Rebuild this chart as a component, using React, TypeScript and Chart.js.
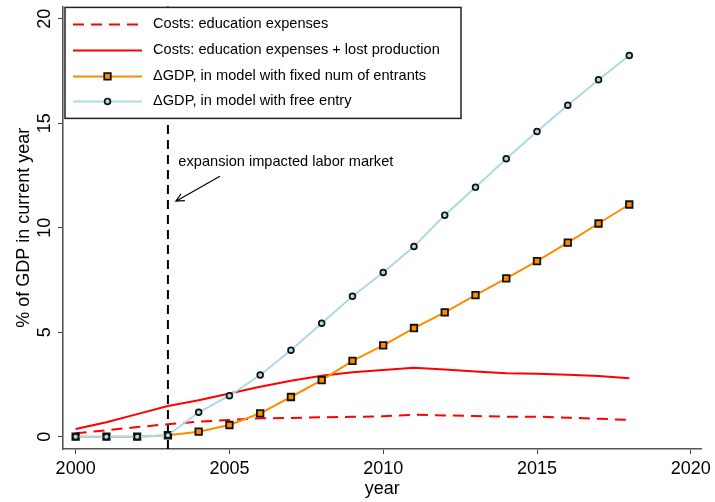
import React, { useEffect, useRef } from 'react';
import { Chart, registerables } from 'chart.js';

Chart.register(...registerables);

const FONT = '"Liberation Sans", Arial, Helvetica, sans-serif';

// ---- data ----
const years = [2000, 2001, 2002, 2003, 2004, 2005, 2006, 2007, 2008, 2009, 2010, 2011, 2012, 2013, 2014, 2015, 2016, 2017, 2018];
const costsEducation = [0.16, 0.31, 0.46, 0.6, 0.72, 0.8, 0.88, 0.9, 0.93, 0.95, 0.98, 1.05, 1.02, 0.99, 0.96, 0.96, 0.91, 0.86, 0.8];
const costsEducationLost = [0.37, 0.69, 1.08, 1.47, 1.74, 2.07, 2.39, 2.68, 2.92, 3.08, 3.19, 3.3, 3.22, 3.12, 3.04, 3.01, 2.96, 2.9, 2.8];
const gdpFixedEntrants = [0, 0, 0, 0.07, 0.24, 0.56, 1.12, 1.9, 2.71, 3.63, 4.37, 5.2, 5.95, 6.77, 7.58, 8.4, 9.29, 10.2, 11.11];
const gdpFreeEntry = [0, 0, 0, 0.07, 1.17, 1.96, 2.95, 4.14, 5.43, 6.72, 7.86, 9.1, 10.6, 11.93, 13.3, 14.6, 15.86, 17.08, 18.24];

const seriesLabels = [
  'Costs: education expenses',
  'Costs: education expenses + lost production',
  '\u0394GDP, in model with fixed num of entrants',
  '\u0394GDP, in model with free entry',
];

const xTickValues = [2000, 2005, 2010, 2015, 2020];
const yTickValues = [0, 5, 10, 15, 20];
const xTitle = 'year';
const yTitle = '% of GDP in current year';

const expansionYear = 2003;
const annotationText = 'expansion impacted labor market';
const annotationPos = { x: 2003.34, y: 13.15 };
const arrowFrom = { x: 2004.69, y: 12.46 };
const arrowTo = { x: 2003.26, y: 11.27 };

const toPoints = (vals: number[]) => years.map((yr, i) => ({ x: yr, y: vals[i] }));

const overlayPlugin = {
  id: 'overlay',
  beforeDatasetsDraw(chart: any) {
    const { ctx, chartArea, scales } = chart;
    const x = scales.x.getPixelForValue(expansionYear);
    ctx.save();
    ctx.strokeStyle = '#000';
    ctx.lineWidth = 2;
    ctx.setLineDash([9, 6]);
    ctx.beginPath();
    ctx.moveTo(x, chartArea.bottom);
    ctx.lineTo(x, chartArea.top);
    ctx.stroke();
    ctx.restore();
  },
  afterDatasetsDraw(chart: any) {
    const { ctx, scales } = chart;
    const sx = scales.x, sy = scales.y;
    ctx.save();
    ctx.fillStyle = '#000';
    ctx.font = `14.6px ${FONT}`;
    ctx.textAlign = 'left';
    ctx.textBaseline = 'middle';
    ctx.fillText(annotationText, sx.getPixelForValue(annotationPos.x), sy.getPixelForValue(annotationPos.y));
    const x1 = sx.getPixelForValue(arrowFrom.x), y1 = sy.getPixelForValue(arrowFrom.y);
    const x2 = sx.getPixelForValue(arrowTo.x), y2 = sy.getPixelForValue(arrowTo.y);
    ctx.strokeStyle = '#000';
    ctx.lineWidth = 1.2;
    ctx.beginPath();
    ctx.moveTo(x1, y1);
    ctx.lineTo(x2, y2);
    const ang = Math.atan2(y2 - y1, x2 - x1);
    const L = 9, a = Math.PI / 7;
    ctx.moveTo(x2 - L * Math.cos(ang - a), y2 - L * Math.sin(ang - a));
    ctx.lineTo(x2, y2);
    ctx.lineTo(x2 - L * Math.cos(ang + a), y2 - L * Math.sin(ang + a));
    ctx.stroke();
    ctx.restore();
  },
  afterDraw(chart: any) {
    const { ctx, chartArea, scales } = chart;
    ctx.save();
    ctx.fillStyle = '#000';
    ctx.font = `18px ${FONT}`;
    ctx.textAlign = 'center';
    ctx.textBaseline = 'alphabetic';
    scales.y.ticks.forEach((t: any) => {
      const py = scales.y.getPixelForValue(t.value);
      ctx.save();
      ctx.translate(50, py);
      ctx.rotate(-Math.PI / 2);
      ctx.fillText(String(t.value), 0, 0);
      ctx.restore();
    });
    ctx.restore();

    const bx = chartArea.left + 2, by = chartArea.top + 1, bw = 396, bh = 111;
    ctx.save();
    ctx.fillStyle = '#fff';
    ctx.fillRect(bx, by, bw, bh);
    ctx.strokeStyle = '#222';
    ctx.lineWidth = 1.5;
    ctx.strokeRect(bx, by, bw, bh);
    const rowY = [17, 43, 69, 94];
    ctx.font = `14.6px ${FONT}`;
    ctx.textBaseline = 'middle';
    ctx.textAlign = 'left';
    chart.data.datasets.forEach((ds: any, i: number) => {
      const y = by + rowY[i];
      const sx0 = bx + 8, sx1 = bx + 77;
      ctx.save();
      ctx.strokeStyle = ds.borderColor;
      ctx.lineWidth = ds.borderWidth;
      ctx.setLineDash(ds.borderDash || []);
      ctx.beginPath();
      ctx.moveTo(sx0, y);
      ctx.lineTo(sx1, y);
      ctx.stroke();
      ctx.restore();
      if (ds.pointRadius > 0) {
        const mx = (sx0 + sx1) / 2;
        ctx.save();
        ctx.fillStyle = ds.pointBackgroundColor;
        ctx.strokeStyle = ds.pointBorderColor;
        ctx.lineWidth = ds.pointBorderWidth;
        ctx.beginPath();
        if (ds.pointStyle === 'rect') {
          const h = ds.pointRadius * Math.SQRT1_2;
          ctx.rect(mx - h, y - h, 2 * h, 2 * h);
        } else {
          ctx.arc(mx, y, ds.pointRadius, 0, Math.PI * 2);
        }
        ctx.fill();
        ctx.stroke();
        ctx.restore();
      }
      ctx.fillStyle = '#000';
      ctx.fillText(ds.label, bx + 88, y);
    });
    ctx.restore();
  },
};

export default function App() {
  const canvasRef = useRef<HTMLCanvasElement | null>(null);

  useEffect(() => {
    if (!canvasRef.current) return;
    Chart.defaults.font.family = FONT;
    const chart = new Chart(canvasRef.current, {
      type: 'line',
      data: {
        datasets: [
          {
            label: seriesLabels[0],
            data: toPoints(costsEducation),
            borderColor: '#ff0000',
            borderWidth: 2,
            borderDash: [11, 7],
            pointRadius: 0,
            tension: 0,
            order: 4,
          },
          {
            label: seriesLabels[1],
            data: toPoints(costsEducationLost),
            borderColor: '#ff0000',
            borderWidth: 2,
            pointRadius: 0,
            tension: 0,
            order: 3,
          },
          {
            label: seriesLabels[2],
            data: toPoints(gdpFixedEntrants),
            borderColor: '#ff8c00',
            borderWidth: 2,
            pointStyle: 'rect',
            pointRadius: 4.6,
            pointBackgroundColor: '#ff8c00',
            pointBorderColor: '#111',
            pointBorderWidth: 1.8,
            tension: 0,
            order: 2,
          },
          {
            label: seriesLabels[3],
            data: toPoints(gdpFreeEntry),
            borderColor: '#add8e6',
            borderWidth: 2,
            pointStyle: 'circle',
            pointRadius: 2.9,
            pointBackgroundColor: '#add8e6',
            pointBorderColor: '#111',
            pointBorderWidth: 1.7,
            tension: 0,
            order: 1,
          },
        ] as any,
      },
      options: {
        animation: false,
        responsive: false,
        events: [],
        layout: { padding: { top: 6, right: 11, left: 0, bottom: 0 } },
        plugins: { legend: { display: false }, tooltip: { enabled: false } },
        scales: {
          x: {
            type: 'linear',
            min: 1999.589,
            max: 2020.35,
            afterBuildTicks: (s: any) => { s.ticks = xTickValues.map((v) => ({ value: v })); },
            afterFit: (s: any) => { s.height = 53; },
            ticks: {
              color: '#000',
              font: { size: 18 },
              padding: 4,
              maxRotation: 0,
              minRotation: 0,
              autoSkip: false,
              callback: (v: any) => String(v),
            },
            grid: { drawOnChartArea: false, drawTicks: true, tickLength: 5, color: '#444', lineWidth: 1 },
            border: { display: true, color: '#555', width: 1.6 },
            title: { display: true, text: xTitle, color: '#000', font: { size: 18 }, padding: { top: 0, bottom: 2 } },
          },
          y: {
            type: 'linear',
            min: -0.588,
            max: 20.588,
            afterBuildTicks: (s: any) => { s.ticks = yTickValues.map((v) => ({ value: v })); },
            afterFit: (s: any) => { s.width = 63; },
            ticks: { display: false },
            grid: { drawOnChartArea: false, drawTicks: true, tickLength: 5, color: '#444', lineWidth: 1 },
            border: { display: true, color: '#555', width: 1.6 },
            title: { display: true, text: yTitle, color: '#000', font: { size: 18 }, padding: { top: 13, bottom: 0 } },
          },
        },
      } as any,
      plugins: [overlayPlugin],
    });
    return () => chart.destroy();
  }, []);

  return (
    <div style={{ position: 'absolute', left: 0, top: 0, width: 715, height: 502, background: '#fff' }}>
      <canvas ref={canvasRef} width={715} height={502} style={{ width: 715, height: 502, display: 'block' }} />
    </div>
  );
}
